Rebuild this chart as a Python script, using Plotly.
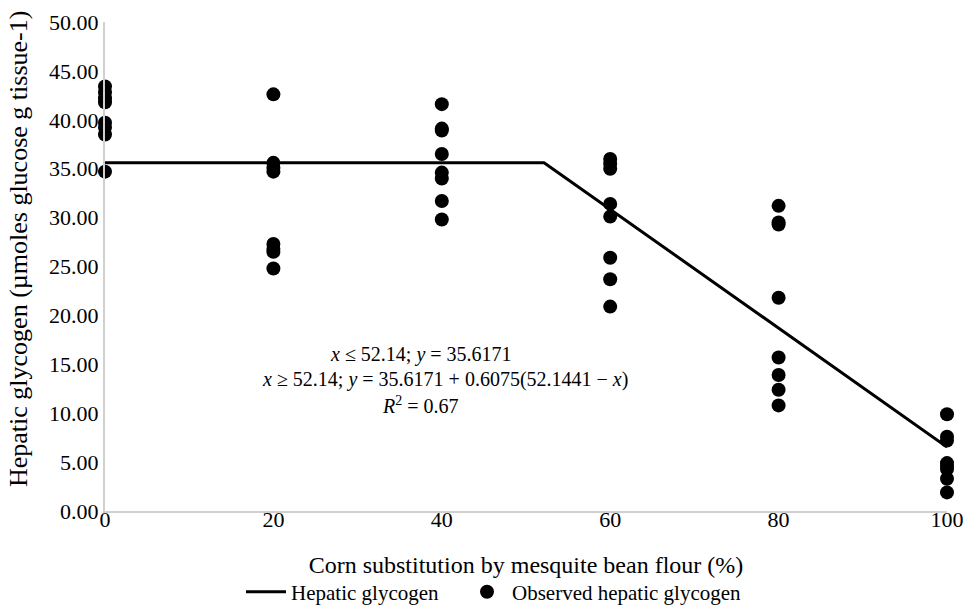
import plotly.graph_objects as go

# Observed data
x_levels = [0, 20, 40, 60, 80, 100]
obs_0 = [43.4, 42.8, 42.2, 41.8, 39.7, 39.2, 38.5, 34.7]
obs_20 = [42.6, 35.6, 35.1, 34.7, 27.3, 26.8, 26.5, 24.8]
obs_40 = [41.6, 39.1, 38.9, 36.5, 34.6, 34.0, 31.7, 29.8]
obs_60 = [36.0, 35.5, 35.0, 31.4, 30.1, 25.9, 23.7, 20.9]
obs_80 = [31.2, 29.5, 29.3, 21.8, 15.7, 13.9, 12.4, 10.8]
obs_100 = [9.9, 7.6, 7.2, 4.9, 4.6, 4.3, 3.3, 1.9]

# Broken-line model parameters
plateau = 35.6171
breakpoint = 52.1441
slope = 0.6075
fit_x = [0, breakpoint, 100]
fit_y = [plateau, plateau, plateau + slope * (breakpoint - 100)]

y_ticks = [0, 5, 10, 15, 20, 25, 30, 35, 40, 45, 50]
x_ticks = [0, 20, 40, 60, 80, 100]

eq_lines = [
    "<i>x</i> ≤ 52.14; <i>y</i> = 35.6171",
    "<i>x</i> ≥ 52.14; <i>y</i> = 35.6171 + 0.6075(52.1441 − <i>x</i>)",
    "<i>R</i><sup>2</sup> = 0.67",
]
eq_x = [37.5, 40.4, 37.5]
eq_y = [16.0, 13.4, 10.85]

obs_x, obs_y = [], []
for xv, ys in zip(x_levels, [obs_0, obs_20, obs_40, obs_60, obs_80, obs_100]):
    obs_x += [xv] * len(ys)
    obs_y += ys

FONT = "Liberation Serif"

fig = go.Figure()
fig.add_trace(go.Scatter(
    x=fit_x, y=fit_y, mode="lines", name="Hepatic glycogen",
    line=dict(color="black", width=3), cliponaxis=False, legend="legend"))
fig.add_trace(go.Scatter(
    x=obs_x, y=obs_y, mode="markers", name="Observed hepatic glycogen",
    marker=dict(color="black", size=14), cliponaxis=False, legend="legend2"))

for t, xv, yv in zip(eq_lines, eq_x, eq_y):
    fig.add_annotation(
        x=xv, y=yv, xref="x", yref="y", showarrow=False, align="center",
        text=t, font=dict(family=FONT, size=20, color="black"))

# y-axis title as rotated annotation for exact placement
fig.add_annotation(
    x=(18 - 105) / 842, y=(511 - 249) / 489, xref="paper", yref="paper",
    xanchor="center", yanchor="middle", textangle=-90, showarrow=False,
    text="Hepatic glycogen (µmoles glucose g tissue-1)",
    font=dict(family=FONT, size=26, color="black"))

leg_common = dict(orientation="h", yanchor="middle", y=-0.166, xanchor="left",
                  font=dict(family=FONT, size=21, color="black"),
                  itemwidth=40, bgcolor="rgba(0,0,0,0)")

fig.update_layout(
    width=969, height=607,
    margin=dict(l=105, r=22, t=22, b=96, autoexpand=False),
    paper_bgcolor="white", plot_bgcolor="white",
    font=dict(family=FONT, size=20, color="black"),
    showlegend=True,
    legend=dict(x=(241 - 105) / 842, **leg_common),
    legend2=dict(x=(462 - 105) / 842, **leg_common),
    xaxis=dict(range=[0, 100], tickvals=x_ticks, ticks="", showgrid=False,
               showline=True, linecolor="#d0d0d0", linewidth=2, zeroline=False,
               tickfont=dict(family=FONT, size=22), ticklabelstandoff=-12,
               title=dict(text="Corn substitution by mesquite bean flour (%)",
                          font=dict(family=FONT, size=24), standoff=25)),
    yaxis=dict(range=[0, 50], tickvals=y_ticks, tickformat=".2f", ticks="",
               showgrid=False, showline=True, linecolor="#d0d0d0", linewidth=2,
               zeroline=False, tickfont=dict(family=FONT, size=22)),
)

fig.write_html("out.html")
